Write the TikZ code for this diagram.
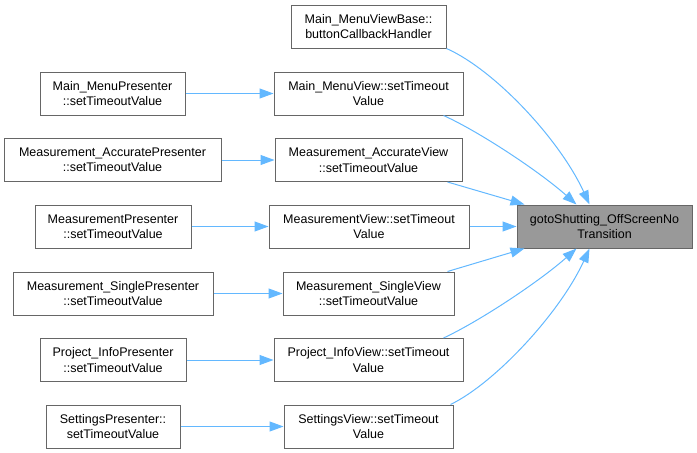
\documentclass[tikz,border=0pt]{standalone}
\usepackage{fontspec}
\setmainfont{Liberation Sans}
\usetikzlibrary{arrows.meta,calc}
\definecolor{edgeblue}{HTML}{63B8FF}
\definecolor{boxgray}{HTML}{666666}
\definecolor{hlfill}{HTML}{999999}
\begin{document}
\begin{tikzpicture}[x=1pt,y=-1pt,
  box/.style={draw=boxgray,fill=white,line width=1pt,inner sep=0pt,align=center,minimum height=43pt,
    font=\fontsize{12.5}{15.3}\selectfont},
  hl/.style={box,fill=hlfill},
  edge/.style={draw=edgeblue,line width=1pt,-{Triangle[length=14pt,width=10pt]}}]
\useasboundingbox (0,0) rectangle (697,453);
\node[box,minimum width=155pt] (base) at (368.5,26.5) {Main\_MenuViewBase::\\buttonCallbackHandler};
\node[box,minimum width=145pt] (mmp) at (112.5,93.5) {Main\_MenuPresenter\\::setTimeoutValue};
\node[box,minimum width=189pt] (mmv) at (368.5,93.5) {Main\_MenuView::setTimeout\\Value};
\node[box,minimum width=217pt] (map) at (112.5,160) {Measurement\_AccuratePresenter\\::setTimeoutValue};
\node[box,minimum width=187pt] (mav) at (368.5,160) {Measurement\_AccurateView\\::setTimeoutValue};
\node[box,minimum width=156pt] (mp) at (113,226.5) {MeasurementPresenter\\::setTimeoutValue};
\node[box,minimum width=200pt] (mv) at (369,226.5) {MeasurementView::setTimeout\\Value};
\node[box,minimum width=200pt] (msp) at (113,293.5) {Measurement\_SinglePresenter\\::setTimeoutValue};
\node[box,minimum width=171pt] (msv) at (368.5,293.5) {Measurement\_SingleView\\::setTimeoutValue};
\node[box,minimum width=146pt] (pip) at (113,360) {Project\_InfoPresenter\\::setTimeoutValue};
\node[box,minimum width=189pt] (piv) at (368.5,360) {Project\_InfoView::setTimeout\\Value};
\node[box,minimum width=134pt] (sp) at (113,426.5) {SettingsPresenter::\\setTimeoutValue};
\node[box,minimum width=169pt] (sv) at (368.5,426.5) {SettingsView::setTimeout\\Value};
\node[hl,minimum width=175pt] (goto) at (604.5,226.5) {gotoShutting\_OffScreenNo\\Transition};

\draw[edge] (mmp) -- (mmv);
\draw[edge] (map) -- (mav);
\draw[edge] (mp) -- (mv);
\draw[edge] (msp) -- (msv);
\draw[edge] (pip) -- (piv);
\draw[edge] (sp) -- (sv);

\draw[edge] (base.south east) .. controls (495,70) and (560,140) .. ($(goto.north west)+(73,0)$);
\draw[edge] ($(mmv.south east)+(-20,0)$) .. controls (480,132) and (540,172) .. ($(goto.north west)+(60,0)$);
\draw[edge] ($(mav.south east)+(-15,0)$) -- ($(goto.north west)+(8,0)$);
\draw[edge] (mv) -- (goto);
\draw[edge] ($(msv.north east)+(-7,0)$) -- ($(goto.south west)+(8,0)$);
\draw[edge] ($(piv.north east)+(-20,0)$) .. controls (480,321) and (540,281) .. ($(goto.south west)+(60,0)$);
\draw[edge] ($(sv.north east)+(-3,0)$) .. controls (495,383) and (560,313) .. ($(goto.south west)+(73,0)$);
\end{tikzpicture}
\end{document}
